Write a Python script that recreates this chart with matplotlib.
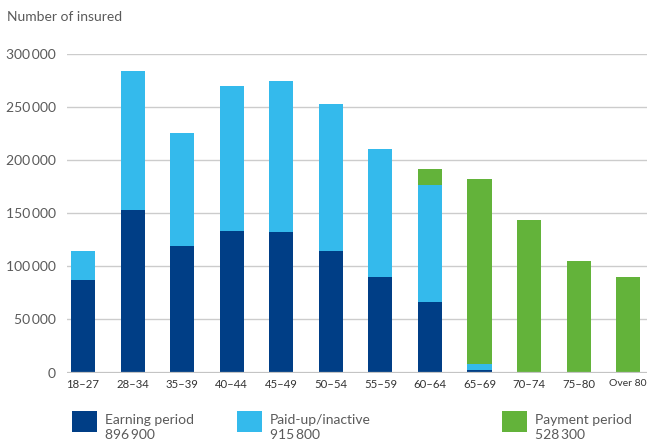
import numpy as np
import matplotlib.pyplot as plt
from matplotlib.patches import Rectangle
from matplotlib.ticker import FuncFormatter

plt.rcParams['font.family'] = ['Lato', 'DejaVu Sans']

# Insured by age group and status
age_groups = ['18\u201327', '28\u201334', '35\u201339', '40\u201344', '45\u201349', '50\u201354',
              '55\u201359', '60\u201364', '65\u201369', '70\u201374', '75\u201380', 'Over 80']
earning = [87000, 153000, 119200, 133300, 132400, 114500, 89800, 66400, 2300, 700, 700, 0]
paid_up = [27700, 130800, 106400, 135800, 141400, 137800, 120700, 110200, 5800, 0, 0, 0]
payment = [0, 0, 0, 0, 0, 0, 0, 15100, 174300, 143000, 104300, 90000]

legend_names = ['Earning period', 'Paid-up/inactive', 'Payment period']
legend_totals = ['896\u2009900', '915\u2009800', '528\u2009300']

c_dark = '#003E86'
c_light = '#34BAEC'
c_green = '#63B33A'
txt = '#5a5a5a'

fig = plt.figure(figsize=(6.47, 4.41), dpi=100)
ax = fig.add_axes([66.7 / 647, 1 - 372.5 / 441, 1 - 66.7 / 647, (372.5 - 53.5) / 441])

x = np.arange(len(age_groups))
w = 0.485
earning = np.array(earning)
paid_up = np.array(paid_up)
payment = np.array(payment)
ax.bar(x, earning, w, color=c_dark, zorder=3)
ax.bar(x, paid_up, w, bottom=earning, color=c_light, zorder=3)
ax.bar(x, payment, w, bottom=earning + paid_up, color=c_green, zorder=3)

ax.set_xlim(-0.33, 11.38)
ax.set_ylim(0, 300000)
ax.set_yticks(np.arange(0, 300001, 50000))
ax.yaxis.set_major_formatter(FuncFormatter(lambda v, p: f'{int(v):,}'.replace(',', '\u2009')))
ax.grid(axis='y', color='#cccccc', linewidth=1.0, zorder=0)
ax.set_axisbelow(True)
for s in ax.spines.values():
    s.set_visible(False)
ax.axhline(0, color='#c4c4c4', linewidth=1.6, zorder=4)

ax.set_xticks(x)
ax.set_xticklabels(age_groups, fontsize=8.2, color='#333333')
ax.get_xticklabels()[-1].set_fontsize(7.5)
ax.tick_params(axis='x', length=0, pad=5)
ax.tick_params(axis='y', length=0, pad=8, labelsize=10, labelcolor=txt)

fig.text(7 / 647, 1 - 17 / 441, 'Number of insured', fontsize=10, color=txt, va='center', ha='left')

# legend built by hand below the axes
for cx, col, name, tot in zip([72, 237, 502], [c_dark, c_light, c_green], legend_names, legend_totals):
    fig.add_artist(Rectangle((cx / 647, 1 - 432 / 441), 25 / 647, 21 / 441,
                             transform=fig.transFigure, color=col, lw=0))
    fig.text((cx + 33) / 647, 1 - 420 / 441, name, fontsize=10, color=txt, va='center', ha='left')
    fig.text((cx + 33) / 647, 1 - 435 / 441, tot, fontsize=10, color=txt, va='center', ha='left')

fig.savefig('out.png', dpi=100)
